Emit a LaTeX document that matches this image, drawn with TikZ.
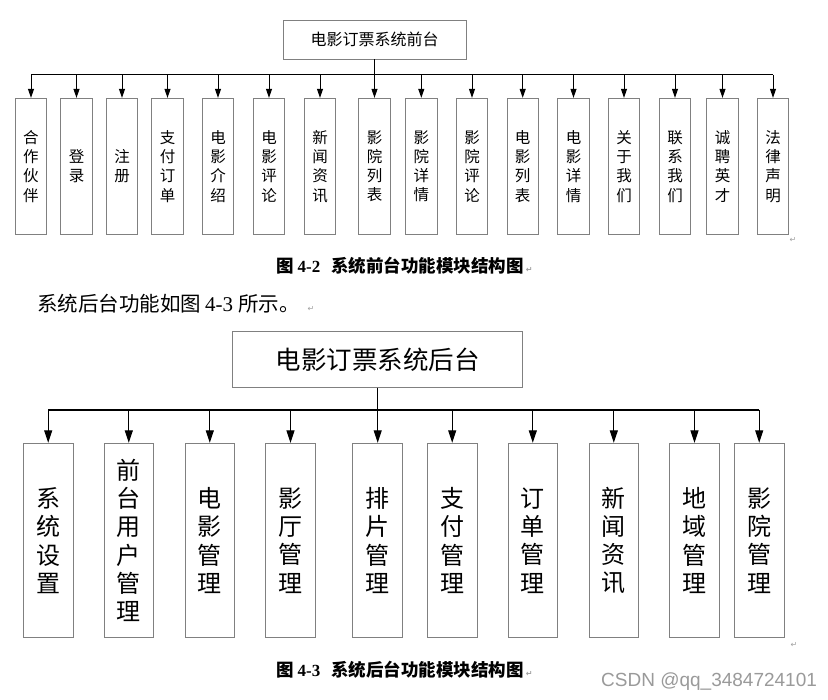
\documentclass[tikz,border=0pt]{standalone}
\usepackage{fontspec}
\setmainfont{Liberation Serif}
\newfontfamily\cjk{Noto Sans CJK SC}
\newfontfamily\symfont{DejaVu Sans}
\newfontfamily\wmfont{Liberation Sans}
\usetikzlibrary{arrows.meta}
\definecolor{boxgray}{HTML}{808080}
\definecolor{retgray}{HTML}{A0A0A0}
\definecolor{wmgray}{HTML}{9A9A9A}
\newcommand{\retmark}{\textcolor{retgray}{\symfont\fontsize{8}{8}\selectfont ↵}}
\begin{document}
\begin{tikzpicture}[x=1pt,y=-1pt,
  sbox/.style={draw=boxgray, line width=0.9pt, minimum width=31.5pt, minimum height=136pt, inner sep=0pt, align=center, font=\cjk\fontsize{15.5}{19.3}\selectfont},
  bbox/.style={draw=boxgray, line width=0.9pt, minimum width=49.7pt, minimum height=194.4pt, inner sep=0pt, align=center, font=\cjk\fontsize{24}{28.3}\selectfont},
  rootbox/.style={draw=boxgray, line width=0.9pt, inner sep=0pt},
  link/.style={line width=1pt, black},
  sarrow/.style={link, -{Triangle[length=9pt,width=6pt]}},
  barrow/.style={link, line width=1.2pt, -{Triangle[length=12.5pt,width=8pt]}},
  caption/.style={anchor=west, inner sep=0pt, font=\cjk\bfseries\fontsize{17.5}{17.5}\selectfont},
]
\fill[white] (0,0) rectangle (828,700);
\useasboundingbox (0,0) rectangle (828,700);

% ---------- front-end chart ----------
\node[rootbox, minimum width=183pt, minimum height=39pt, font=\cjk\fontsize{16}{16}\selectfont] (troot) at (374.5,39.5) {电影订票系统前台};
\coordinate (tbus) at (375,75);
\foreach \i/\x/\t in {
  1/31/{合\\作\\伙\\伴},
  2/76.5/{登\\录},
  3/122/{注\\册},
  4/167.5/{支\\付\\订\\单},
  5/218/{电\\影\\介\\绍},
  6/269/{电\\影\\评\\论},
  7/320/{新\\闻\\资\\讯},
  8/374.5/{影\\院\\列\\表},
  9/421.3/{影\\院\\详\\情},
  10/472/{影\\院\\评\\论},
  11/522.7/{电\\影\\列\\表},
  12/573.5/{电\\影\\详\\情},
  13/624/{关\\于\\我\\们},
  14/675/{联\\系\\我\\们},
  15/722.5/{诚\\聘\\英\\才},
  16/773/{法\\律\\声\\明}}
  \node[sbox] (t\i) at (\x,166.3) {\t};
\draw[link] (troot.south) -- (troot.south |- tbus);
\draw[link] (t1.north |- tbus) -- (t16.north |- tbus);
\foreach \i in {1,...,16}
  \draw[sarrow] (t\i.north |- tbus) -- (t\i.north);

\node[inner sep=0pt] (tret) at (793,240) {\retmark};
\node[caption] (tcap) at (276,266) {图\hspace{4pt}{\rmfamily\bfseries\fontsize{17}{17}\selectfont 4-2}\hspace{11pt}系统前台功能模块结构图\hspace{2pt}\retmark};

\node[anchor=west, inner sep=0pt, font=\cjk\fontsize{20.5}{20.5}\selectfont] (body) at (37,303.5) {系统后台功能如图\hspace{4pt}{\rmfamily\fontsize{21}{21}\selectfont 4-3}\hspace{5pt}所示。\hspace{8pt}\retmark};

% ---------- back-end chart ----------
\node[rootbox, minimum width=290.4pt, minimum height=55.6pt, font=\cjk\fontsize{25.5}{25.5}\selectfont] (broot) at (377.5,359.5) {电影订票系统后台};
\coordinate (bbus) at (377.7,410);
\foreach \i/\x/\t in {
  1/48.2/{系\\统\\设\\置},
  2/128.8/{前\\台\\用\\户\\管\\理},
  3/209.8/{电\\影\\管\\理},
  4/290.5/{影\\厅\\管\\理},
  5/377.7/{排\\片\\管\\理},
  6/452.2/{支\\付\\管\\理},
  7/532.8/{订\\单\\管\\理},
  8/613.8/{新\\闻\\资\\讯},
  9/694.5/{地\\域\\管\\理},
  10/759.2/{影\\院\\管\\理}}
  \node[bbox] (b\i) at (\x,540.5) {\t};
\draw[link, line width=1.2pt] (broot.south) -- (broot.south |- bbus);
\draw[link, line width=1.2pt] (b1.north |- bbus) -- (b10.north |- bbus);
\foreach \i in {1,...,10}
  \draw[barrow] (b\i.north |- bbus) -- (b\i.north);

\node[inner sep=0pt] (bret) at (794,645) {\retmark};
\node[caption] (bcap) at (276,670) {图\hspace{4pt}{\rmfamily\bfseries\fontsize{17}{17}\selectfont 4-3}\hspace{11pt}系统后台功能模块结构图\hspace{2pt}\retmark};

\node[anchor=west, inner sep=0pt, text=wmgray, font=\wmfont\fontsize{19}{19}\selectfont] (wm) at (601,681.5) {CSDN @qq\_3484724101};
\end{tikzpicture}
\end{document}
